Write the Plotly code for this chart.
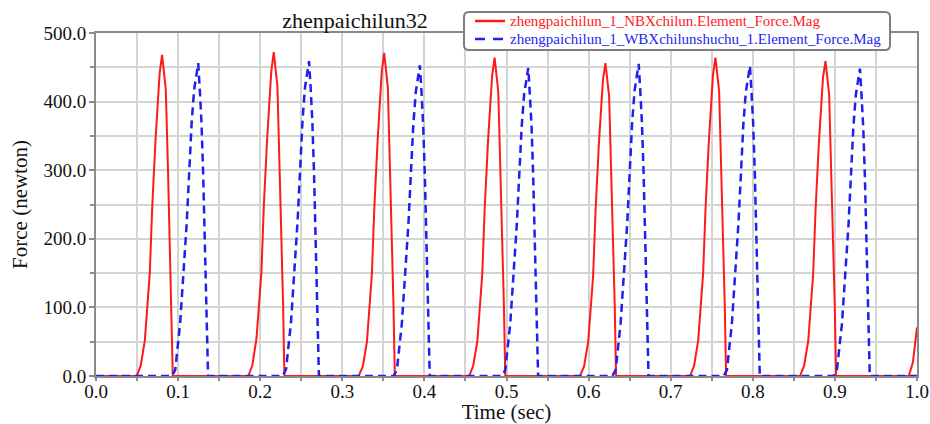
import plotly.graph_objects as go

# ---- data ----
red_t = [0.0000,
         0.0495, 0.0545, 0.0595, 0.0655, 0.0685, 0.0725, 0.0775, 0.0805, 0.0850, 0.0878, 0.0898, 0.0919, 0.0931, 0.0935,
         0.1855, 0.1905, 0.1955, 0.2015, 0.2045, 0.2085, 0.2135, 0.2165, 0.2210, 0.2238, 0.2258, 0.2279, 0.2291, 0.2295,
         0.3200, 0.3250, 0.3300, 0.3360, 0.3390, 0.3430, 0.3480, 0.3510, 0.3555, 0.3583, 0.3603, 0.3624, 0.3636, 0.3640,
         0.4545, 0.4595, 0.4645, 0.4705, 0.4735, 0.4775, 0.4825, 0.4855, 0.4900, 0.4928, 0.4948, 0.4969, 0.4981, 0.4985,
         0.5895, 0.5945, 0.5995, 0.6055, 0.6085, 0.6125, 0.6175, 0.6205, 0.6250, 0.6278, 0.6298, 0.6319, 0.6331, 0.6335,
         0.7235, 0.7285, 0.7335, 0.7395, 0.7425, 0.7465, 0.7515, 0.7545, 0.7590, 0.7618, 0.7638, 0.7659, 0.7671, 0.7675,
         0.8575, 0.8625, 0.8675, 0.8735, 0.8765, 0.8805, 0.8855, 0.8885, 0.8930, 0.8958, 0.8978, 0.8999, 0.9011, 0.9015,
         0.9900, 0.9950, 1.0000]
red_f = [0,
         0, 15, 52, 150, 247, 344, 441, 468, 418, 296, 198, 101, 23, 0,
         0, 16, 55, 152, 250, 347, 444, 472, 422, 300, 200, 103, 24, 0,
         0, 14, 50, 148, 245, 343, 443, 471, 420, 298, 197, 100, 22, 0,
         0, 15, 51, 149, 246, 342, 438, 464, 414, 294, 196, 100, 23, 0,
         0, 14, 50, 146, 242, 338, 432, 456, 408, 290, 194, 99, 22, 0,
         0, 15, 52, 150, 246, 343, 439, 464, 415, 295, 197, 100, 23, 0,
         0, 15, 51, 148, 244, 340, 435, 459, 410, 292, 195, 99, 22, 0,
         0, 20, 71]

blue_t = [0.0000,
          0.0925, 0.0965, 0.1025, 0.1065, 0.1105, 0.1135, 0.1165, 0.1195, 0.1245, 0.1265, 0.1285, 0.1305, 0.1325, 0.1345, 0.1360, 0.1365,
          0.2275, 0.2315, 0.2375, 0.2415, 0.2455, 0.2485, 0.2515, 0.2545, 0.2595, 0.2615, 0.2635, 0.2655, 0.2675, 0.2695, 0.2710, 0.2715,
          0.3625, 0.3665, 0.3725, 0.3765, 0.3805, 0.3835, 0.3865, 0.3895, 0.3945, 0.3965, 0.3985, 0.4005, 0.4025, 0.4045, 0.4060, 0.4065,
          0.4945, 0.4985, 0.5045, 0.5085, 0.5125, 0.5155, 0.5185, 0.5215, 0.5265, 0.5285, 0.5305, 0.5325, 0.5345, 0.5365, 0.5380, 0.5385,
          0.6290, 0.6330, 0.6390, 0.6430, 0.6470, 0.6500, 0.6530, 0.6560, 0.6610, 0.6630, 0.6650, 0.6670, 0.6690, 0.6710, 0.6725, 0.6730,
          0.7645, 0.7685, 0.7745, 0.7785, 0.7825, 0.7855, 0.7885, 0.7915, 0.7965, 0.7985, 0.8005, 0.8025, 0.8045, 0.8065, 0.8080, 0.8085,
          0.8985, 0.9025, 0.9085, 0.9125, 0.9165, 0.9195, 0.9225, 0.9255, 0.9305, 0.9325, 0.9345, 0.9365, 0.9385, 0.9405, 0.9420, 0.9425,
          1.0000]
blue_f = [0,
          0, 9, 77, 150, 223, 296, 369, 417, 456, 416, 369, 296, 198, 101, 28, 0,
          0, 10, 78, 151, 225, 298, 371, 420, 459, 419, 371, 298, 199, 102, 28, 0,
          0, 9, 76, 149, 221, 294, 366, 414, 453, 413, 366, 294, 197, 100, 27, 0,
          0, 9, 75, 147, 220, 292, 364, 411, 449, 409, 364, 292, 196, 100, 27, 0,
          0, 9, 77, 150, 222, 295, 368, 416, 455, 415, 368, 295, 198, 101, 28, 0,
          0, 9, 76, 149, 222, 294, 367, 414, 452, 412, 367, 294, 197, 100, 27, 0,
          0, 9, 75, 147, 219, 291, 363, 410, 448, 408, 363, 291, 196, 100, 27, 0,
          0]

series_names = ["zhengpaichilun_1_NBXchilun.Element_Force.Mag",
                "zhengpaichilun_1_WBXchilunshuchu_1.Element_Force.Mag"]
title_text = "zhenpaichilun32"
x_title = "Time (sec)"
y_title = "Force (newton)"

RED = "#ff1a1a"
BLUE = "#1f1fef"
SERIF = "Liberation Serif, Times New Roman, serif"

# plot-area geometry in page pixels (used for legend box placement)
W, H = 930, 424
ML, MR, MT, MB = 96, 13, 33, 48
PW, PH = W - ML - MR, H - MT - MB


def px(x):
    return (x - ML) / PW


def py(y):
    return (H - MB - y) / PH


fig = go.Figure()
fig.add_trace(go.Scatter(
    x=red_t, y=red_f, mode="lines", name=series_names[0],
    line=dict(color=RED, width=2), showlegend=False))
fig.add_trace(go.Scatter(
    x=blue_t, y=blue_f, mode="lines", name=series_names[1],
    line=dict(color=BLUE, width=2.5, dash="8px,5px"), showlegend=False))

# ---- custom legend box (rounded) ----
x0, x1, y0, y1, r = 464, 890, 12, 50, 5
path = (f"M {px(x0 + r)},{py(y0)} L {px(x1 - r)},{py(y0)} "
        f"Q {px(x1)},{py(y0)} {px(x1)},{py(y0 + r)} "
        f"L {px(x1)},{py(y1 - r)} Q {px(x1)},{py(y1)} {px(x1 - r)},{py(y1)} "
        f"L {px(x0 + r)},{py(y1)} Q {px(x0)},{py(y1)} {px(x0)},{py(y1 - r)} "
        f"L {px(x0)},{py(y0 + r)} Q {px(x0)},{py(y0)} {px(x0 + r)},{py(y0)} Z")
shapes = [
    dict(type="path", path=path, xref="paper", yref="paper",
         fillcolor="white", line=dict(color="#7f7f7f", width=2), layer="above"),
    dict(type="line", xref="paper", yref="paper",
         x0=px(475), x1=px(505), y0=py(21), y1=py(21),
         line=dict(color=RED, width=2.5), layer="above"),
    dict(type="line", xref="paper", yref="paper",
         x0=px(475), x1=px(505), y0=py(39), y1=py(39),
         line=dict(color=BLUE, width=2.5, dash="10px,8px"), layer="above"),
]
annotations = [
    dict(text=series_names[0], xref="paper", yref="paper", x=px(508), y=py(21),
         xanchor="left", yanchor="middle", showarrow=False,
         font=dict(family=SERIF, size=15, color=RED)),
    dict(text=series_names[1], xref="paper", yref="paper", x=px(508), y=py(39),
         xanchor="left", yanchor="middle", showarrow=False,
         font=dict(family=SERIF, size=15, color=BLUE)),
]

axis_common = dict(
    showline=True, linecolor="#8a8a8a", linewidth=2, mirror=True,
    showgrid=True, gridcolor="#d4d4d4", gridwidth=1.5,
    tickcolor="#8a8a8a", tickwidth=1.5,
    tickfont=dict(family=SERIF, size=19, color="#111"),
    zeroline=False, automargin=False,
)

fig.update_layout(
    width=W, height=H,
    margin=dict(l=ML, r=MR, t=MT, b=MB),
    paper_bgcolor="white", plot_bgcolor="white",
    font=dict(family=SERIF, color="#111"),
    title=dict(text=title_text, x=355 / W, xanchor="center", xref="container",
               y=1 - 20 / H, yanchor="middle", yref="container",
               font=dict(family=SERIF, size=22, color="#111")),
    xaxis=dict(range=[0, 1], tick0=0, dtick=0.1, tickformat=".1f",
               ticks="outside", ticklen=3, ticklabelstandoff=-6,
               title=dict(text=x_title, font=dict(family=SERIF, size=21), standoff=2),
               minor=dict(dtick=0.05, showgrid=True, gridcolor="#d4d4d4", gridwidth=1.5,
                          ticks="outside", ticklen=3, tickcolor="#8a8a8a"),
               **axis_common),
    yaxis=dict(range=[0, 500], tick0=0, dtick=100, tickformat=".1f",
               ticks="outside", ticklen=5, ticklabelstandoff=-1,
               title=dict(text=y_title, font=dict(family=SERIF, size=21), standoff=10),
               minor=dict(dtick=50, showgrid=True, gridcolor="#d4d4d4", gridwidth=1.5,
                          ticks="outside", ticklen=4, tickcolor="#8a8a8a"),
               **axis_common),
    shapes=shapes,
    annotations=annotations,
    showlegend=False,
)

fig.write_html("out.html", config={"displayModeBar": False},
               post_script="document.body.style.margin='0';")
